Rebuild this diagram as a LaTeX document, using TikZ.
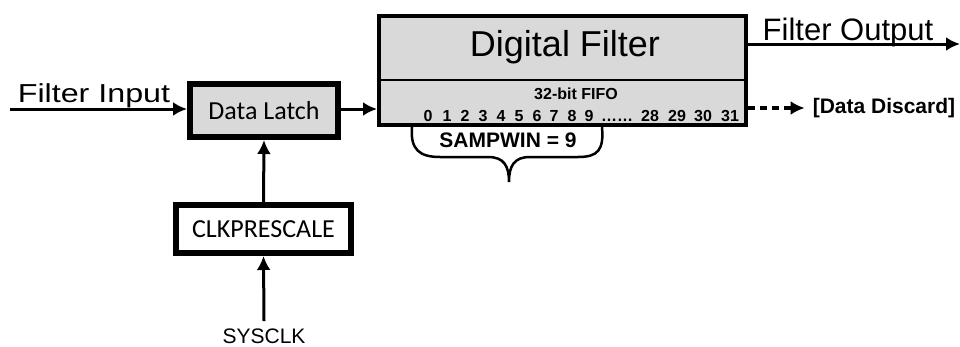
\documentclass[tikz,border=0pt]{standalone}
\usepackage{fontspec}
\setmainfont{Liberation Sans}
\newfontfamily\calfont{Carlito}
\usepackage{tikz}
\usetikzlibrary{arrows.meta, positioning, calc}
\definecolor{boxgray}{HTML}{D9D9D9}
\tikzstyle{block} = [rectangle, draw, line width=6pt, inner sep=0pt, font=\calfont\fontsize{26}{30}\selectfont]
\tikzstyle{line} = [draw, -{Latex[length=14pt,width=14pt]}, line width=3pt]
\tikzstyle{fifo} = [inner sep=0pt, anchor=base, font=\bfseries\fontsize{16}{18}\selectfont]
\tikzstyle{sigtext} = [inner sep=0pt, anchor=base, font=\fontsize{31}{34}\selectfont]

\begin{document}
\begin{tikzpicture}[x=1pt, y=-1pt]
        \useasboundingbox (0,0) rectangle (960,346);
        \node [block, fill=boxgray, minimum width=148pt, minimum height=53pt] (latch) at (264,110.5) {Data Latch};
        \node [block, fill=white, minimum width=175pt, minimum height=48pt] (clkpre) at (263.5,229) {CLKPRESCALE};
        \node [rectangle, draw, line width=4pt, fill=boxgray, minimum width=367pt, minimum height=109pt] (filter) at (562.5,70.5) {};
        \coordinate (divy) at (0,80);
        \draw [line width=2.5pt] (filter.west |- divy) -- (filter.east |- divy);

        \node [font=\fontsize{36}{40}\selectfont] (title) at (565,47) {Digital Filter};
        \node [fifo] (fifolbl) at (576,99) {32-bit FIFO};
        \foreach \n/\x in {0/428,1/447,2/465,3/483,4/501,5/519,6/537,7/554,8/572,9/589,28/650,29/677,30/703,31/730}
            \node [fifo] (bit\n) at (\x,121) {\n};
        \node [fifo] (dots) at (617,121) {……};

        % window brace
        \draw [line width=2.5pt] (412,127) .. controls (410,150) and (420,157) .. (440,157) -- (488,157) .. controls (504,157) and (509,166) .. (509,182)
            .. controls (509,166) and (514,157) .. (530,157) -- (578,157) .. controls (598,157) and (604,150) .. (602,127);
        \node [font=\bfseries\fontsize{21}{24}\selectfont] (sampwin) at (508,140) {SAMPWIN = 9};

        \node [sigtext] (inlbl) at (94,102) {\fontsize{26}{30}\selectfont\scalebox{1.24}[1]{Filter Input}};
        \node [sigtext] (outlbl) at (848,40.5) {Filter Output};
        \node [inner sep=0pt, font=\bfseries\fontsize{21}{24}\selectfont] (discard) at (884,108) {[Data Discard]};
        \node [inner sep=1pt, anchor=base, font=\fontsize{21}{24}\selectfont] (sysclk) at (264,343) {SYSCLK};

        \coordinate (inpt) at (10,109);
        \coordinate (outend) at (960,44);
        \path [line] (inpt) -- (latch.west |- inpt);
        \path [line] (latch.east |- inpt) -- (filter.west |- inpt);
        \path [line] (clkpre.north) -- (latch.south);
        \path [line] ($(sysclk.north)+(0,-6)$) -- (clkpre.south);
        \path [line] (filter.east |- outend) -- (outend);
        \path [line, line width=4pt, dash pattern=on 7pt off 5pt] (filter.east |- discard) -- ($(discard.west)+(-8,0)$);
    \end{tikzpicture}
\end{document}
